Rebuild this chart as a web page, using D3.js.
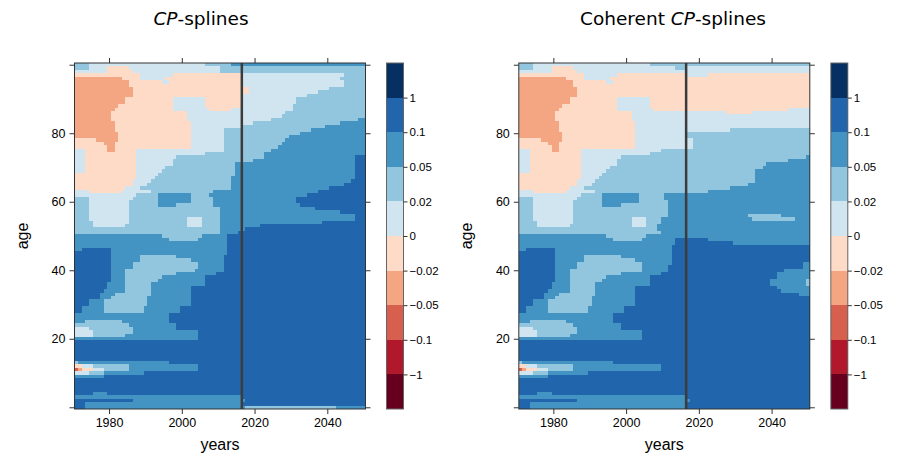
<!DOCTYPE html>
<html>
<head>
<meta charset="utf-8">
<script src="https://cdn.jsdelivr.net/npm/d3@7"></script>
<style>
  body { margin: 0; background: #fff; }
  svg text { font-family: "Liberation Sans", Arial, sans-serif; fill: #000; }
</style>
</head>
<body>
<svg id="chart" width="902" height="460"></svg>
<script>
// level index 0..9 -> RdBu classes, breaks between them
const breakLabels = ["\u22121", "\u22120.1", "\u22120.05", "\u22120.02", "0", "0.02", "0.05", "0.1", "1"];
const yearTicks = [1980, 2000, 2020, 2040];
const ageTicks = [0, 20, 40, 60, 80, 100];
const ageLabels = [20, 40, 60, 80];
const lastObserved = 2016;

// rows: [ageFrom, ageTo, "level year level year level ..."] (years = first year of next level, starting 1971)
const cpRows = [
  [100, 100, "6 1975 5 2007 6 2014 7"],
  [99, 99, "6 1975 5 1980 4 1986 5 2011 6"],
  [98, 98, "5 1980 4 1987 5 2011 6"],
  [97, 97, "4 1989 5 1998 4 2017 5 2045 6"],
  [96, 96, "3 1984 4 1989 5 1996 4 2017 5 2044 6"],
  [95, 95, "3 1986 4 1995 5 1997 4 2017 5 2045 6"],
  [94, 94, "3 1986 4 2017 5 2045 6"],
  [93, 93, "3 1987 4 2019 5 2041 6"],
  [92, 92, "3 1987 4 2019 5 2038 6"],
  [91, 91, "3 1987 4 2017 5 2035 6"],
  [89, 90, "3 1985 4 1998 5 2007 4 2017 5 2032 6"],
  [88, 88, "3 1983 4 1998 5 2007 4 2017 5 2031 6"],
  [87, 87, "3 1982 4 1998 5 2008 4 2014 5 2031 6"],
  [86, 86, "3 1981 4 2002 5 2029 6"],
  [85, 85, "3 1981 4 2002 5 2028 6"],
  [84, 84, "3 1981 4 2002 5 2025 6 2049 7"],
  [83, 83, "3 1982 4 2003 5 2020 6 2044 7"],
  [82, 82, "3 1982 4 2003 5 2017 6 2040 7"],
  [81, 81, "3 1982 4 2003 5 2012 6 2036 7"],
  [80, 80, "3 1983 4 2003 5 2012 6 2033 7"],
  [79, 79, "3 1983 4 2003 5 2012 6 2030 7"],
  [78, 78, "4 1977 3 1983 4 2003 5 2012 6 2029 7"],
  [77, 77, "4 1979 3 1982 4 2003 5 2012 6 2028 7"],
  [76, 76, "4 1980 3 1982 4 2003 5 2012 6 2027 7"],
  [75, 75, "5 1974 4 1980 3 1982 4 1988 5 2012 6 2025 7"],
  [74, 74, "5 1974 4 1988 5 2007 6 2023 7"],
  [73, 73, "5 1974 4 1988 5 1999 6 2023 7 2048 8"],
  [72, 72, "5 1974 4 1988 5 1998 6 2020 7 2048 8"],
  [71, 71, "5 1974 4 1988 5 1998 6 2015 7 2048 8"],
  [70, 70, "5 1974 4 1988 5 1996 6 2015 7 2048 8"],
  [69, 69, "5 1974 4 1988 5 1995 6 2015 7 2048 8"],
  [68, 68, "4 1988 5 1994 6 2015 7 2048 8"],
  [67, 67, "4 1988 5 1993 6 2014 7 2048 8"],
  [66, 66, "4 1987 5 1992 6 2014 7 2047 8"],
  [65, 65, "4 1987 5 1991 6 2014 7 2045 8"],
  [64, 64, "4 1985 5 1989 6 2014 7 2041 8"],
  [63, 63, "5 1975 4 1984 5 1992 6 2009 7 2038 8"],
  [62, 62, "5 1988 6 1994 7 2003 6 2008 7 2035 8"],
  [61, 61, "6 1975 5 1987 6 1994 7 2003 6 2009 7 2032 8"],
  [60, 60, "6 1975 5 1986 6 1994 7 2003 6 2009 7 2032 8"],
  [59, 59, "6 1975 5 1986 6 1994 7 1999 6 2009 7 2033 8"],
  [58, 58, "6 1975 5 1986 6 2011 7 2037 8"],
  [57, 57, "6 1975 5 1986 6 2011 7 2044 8"],
  [56, 56, "6 1975 5 1986 6 2011 7 2048 8"],
  [55, 55, "6 1975 5 1986 6 2002 5 2006 6 2011 7 2048 8"],
  [54, 54, "6 1976 5 1986 6 2002 5 2006 6 2011 7 2039 8"],
  [53, 53, "6 1976 5 1985 6 2002 5 2006 6 2011 7 2022 8"],
  [52, 52, "6 2011 7 2018 8"],
  [51, 51, "6 2011 7 2016 8"],
  [50, 50, "7 1995 6 2006 7 2013 8"],
  [49, 49, "7 1997 6 2005 7 2013 8"],
  [48, 48, "7 2013 8"],
  [47, 47, "7 2013 8"],
  [46, 46, "7 1973 8 1981 7 2013 8"],
  [45, 45, "8 1981 7 2013 8"],
  [44, 44, "8 1981 7 1989 6 1999 7 2012 8"],
  [43, 43, "8 1981 7 1989 6 2003 7 2012 8"],
  [42, 42, "8 1981 7 1987 6 2005 7 2012 8"],
  [41, 41, "8 1981 7 1987 6 2005 7 2012 8"],
  [40, 40, "8 1981 7 1985 6 2004 7 2012 8"],
  [39, 39, "8 1981 7 1985 6 1999 7 2010 8"],
  [38, 38, "8 1981 7 1985 6 1995 7 2007 8"],
  [37, 37, "8 1981 7 1985 6 1994 7 2007 8"],
  [36, 36, "8 1980 7 1985 6 1992 7 2007 8"],
  [35, 35, "8 1980 7 1985 6 1992 7 2003 8"],
  [34, 34, "8 1979 7 1985 6 1992 7 2003 8"],
  [33, 33, "8 1978 7 1982 6 1992 7 2003 8"],
  [32, 32, "8 1978 7 1981 6 1991 7 2003 8"],
  [30, 31, "8 1975 7 1979 6 1991 7 2003 8"],
  [28, 29, "8 1973 7 1979 6 1990 7 2000 8"],
  [26, 27, "7 1997 8"],
  [25, 25, "7 1974 6 1984 7 1997 8"],
  [24, 24, "6 1986 7 1999 8"],
  [23, 23, "5 1975 6 1987 7 1999 8"],
  [22, 22, "5 1976 6 1987 7 2005 8"],
  [21, 21, "5 1976 6 1985 7 2005 8"],
  [20, 20, "7 2005 8"],
  [14, 19, "8"],
  [13, 13, "6 1972 7 1997 8"],
  [12, 12, "4 1973 5 1976 6 1986 7 2005 8"],
  [11, 11, "2 1972 3 1973 4 1976 5 1979 6 1986 7 2005 8"],
  [10, 10, "5 1975 6 1979 7 1990 8"],
  [9, 9, "7 1979 8"],
  [5, 8, "8"],
  [4, 4, "8 1976 7 1980 8"],
  [3, 3, "7 2017 8"],
  [2, 2, "8 1987 7 2018 8"],
  [1, 1, "8 1974 7 2017 8"],
  [0, 0, "8 1974 7 2018 6 2043 7"]
];

const cohRows = [
  [100, 100, "6 1975 5 2007 6"],
  [99, 99, "6 1975 5 1980 4 1986 5 2014 6 2017 5"],
  [98, 98, "5 1980 4 1987 5"],
  [97, 97, "4 1989 5 1998 4 2017 5 2023 4"],
  [96, 96, "3 1984 4 1989 5 1996 4"],
  [95, 95, "3 1986 4 1995 5 1997 4"],
  [94, 94, "3 1986 4"],
  [91, 93, "3 1987 4"],
  [89, 90, "3 1985 4 1998 5 2007 4"],
  [88, 88, "3 1983 4 1998 5 2007 4"],
  [87, 87, "3 1982 4 1998 5 2008 4 2045 5"],
  [86, 86, "3 1981 4 2002 5 2028 4 2035 5"],
  [84, 85, "3 1981 4 2002 5"],
  [82, 83, "3 1982 4 2003 5"],
  [81, 81, "3 1982 4 2003 5 2029 6"],
  [79, 80, "3 1983 4 2003 5 2017 6"],
  [78, 78, "4 1977 3 1983 4 2003 5 2019 6"],
  [77, 77, "4 1979 3 1982 4 2003 5 2019 6"],
  [76, 76, "4 1980 3 1982 4 2003 5 2019 6"],
  [75, 75, "5 1974 4 1980 3 1982 4 1988 5 2010 6"],
  [74, 74, "5 1974 4 1988 5 2007 6"],
  [73, 73, "5 1974 4 1988 5 1999 6 2050 7"],
  [72, 72, "5 1974 4 1988 5 1998 6 2045 7"],
  [71, 71, "5 1974 4 1988 5 1998 6 2039 7"],
  [70, 70, "5 1974 4 1988 5 1996 6 2038 7"],
  [69, 69, "5 1974 4 1988 5 1995 6 2036 7"],
  [68, 68, "4 1988 5 1994 6 2036 7"],
  [67, 67, "4 1988 5 1993 6 2036 7"],
  [66, 66, "4 1987 5 1992 6 2036 7"],
  [65, 65, "4 1987 5 1991 6 2034 7"],
  [64, 64, "4 1985 5 1989 6 2029 7"],
  [63, 63, "5 1975 4 1984 5 1992 6 2023 7"],
  [62, 62, "5 1988 6 1994 7 2004 6 2011 7"],
  [61, 61, "6 1975 5 1987 6 1994 7 2004 6 2011 7"],
  [60, 60, "6 1975 5 1986 6 1994 7 2004 6 2012 7"],
  [59, 59, "6 1975 5 1986 6 1994 7 1999 6 2012 7"],
  [57, 58, "6 1975 5 1986 6 2012 7"],
  [56, 56, "6 1975 5 1986 6 2012 7 2034 6 2043 7"],
  [55, 55, "6 1975 5 1986 6 2002 5 2006 6 2010 7 2035 6 2047 7"],
  [54, 54, "6 1976 5 1986 6 2002 5 2006 6 2010 7"],
  [53, 53, "6 1976 5 1985 6 2002 5 2006 6 2009 7"],
  [52, 52, "6 2009 7"],
  [51, 51, "6 2010 7"],
  [50, 50, "7 1995 6 2006 7"],
  [49, 49, "7 1997 6 2005 7 2014 8 2023 7"],
  [48, 48, "7 2014 8 2030 7"],
  [47, 47, "7 2013 8"],
  [46, 46, "7 1973 8 1981 7 2013 8"],
  [45, 45, "8 1981 7 2013 8"],
  [44, 44, "8 1981 7 1989 6 1999 7 2013 8"],
  [43, 43, "8 1981 7 1989 6 2003 7 2013 8"],
  [42, 42, "8 1981 7 1987 6 2005 7 2013 8 2049 7"],
  [41, 41, "8 1981 7 1987 6 2005 7 2012 8 2049 7"],
  [40, 40, "8 1981 7 1985 6 2005 7 2012 8 2044 7"],
  [39, 39, "8 1981 7 1985 6 1999 7 2010 8 2042 7"],
  [38, 38, "8 1981 7 1985 6 1995 7 2007 8 2042 7"],
  [37, 37, "8 1981 7 1985 6 1994 7 2007 8 2040 7 2050 6"],
  [36, 36, "8 1980 7 1985 6 1992 7 2007 8 2040 7 2050 6"],
  [35, 35, "8 1980 7 1985 6 1992 7 2003 8 2042 7"],
  [34, 34, "8 1979 7 1985 6 1992 7 2003 8 2043 7"],
  [33, 33, "8 1978 7 1982 6 1992 7 2003 8 2048 7"],
  [32, 32, "8 1978 7 1981 6 1991 7 2003 8"],
  [30, 31, "8 1975 7 1979 6 1991 7 2003 8"],
  [28, 29, "8 1973 7 1979 6 1990 7 2000 8"],
  [26, 27, "7 1997 8"],
  [25, 25, "7 1974 6 1984 7 1997 8"],
  [24, 24, "6 1986 7 1999 8"],
  [23, 23, "5 1975 6 1987 7 1999 8"],
  [22, 22, "5 1976 6 1987 7 2005 8"],
  [21, 21, "5 1976 6 1985 7 2005 8"],
  [20, 20, "7 2005 8"],
  [14, 19, "8"],
  [13, 13, "6 1972 7 1997 8"],
  [12, 12, "4 1973 5 1976 6 1986 7 2010 8"],
  [11, 11, "2 1972 3 1973 4 1976 5 1979 6 1986 7 2010 8"],
  [10, 10, "5 1975 6 1979 7 1990 8"],
  [9, 9, "7 1979 8"],
  [5, 8, "8"],
  [4, 4, "8 1976 7 1980 8"],
  [3, 3, "7 2017 8"],
  [2, 2, "8 1987 7 2018 8"],
  [1, 1, "8 1974 7 2017 8"],
  [0, 0, "8 1974 7 2017 8"]
];

const colors = d3.schemeRdBu[10]; // 0 = dark red ... 9 = navy

const svg = d3.select("#chart");

function toCells(rows) {
  const cells = [];
  rows.forEach(([lo, hi, s]) => {
    const t = s.split(" ").map(Number);
    let start = 1971;
    for (let i = 0; i < t.length; i += 2) {
      const end = i + 1 < t.length ? t[i + 1] : 2051;
      cells.push({ lev: t[i], y0: start, y1: end, lo: lo, hi: hi });
      start = end;
    }
  });
  return cells;
}

function drawPanel(left, rows, titleParts, titleX) {
  const right = left + 291, top = 63, bottom = 409;
  const x = d3.scaleLinear().domain([1970.5, 2050.5]).range([left, right]);
  const y = d3.scaleLinear().domain([-0.5, 100.5]).range([bottom, top]);
  const g = svg.append("g");

  g.append("g").selectAll("rect")
    .data(toCells(rows))
    .enter()
    .append("rect")
    .attr("x", d => x(d.y0 - 0.5))
    .attr("width", d => x(d.y1 - 0.5) - x(d.y0 - 0.5))
    .attr("y", d => y(d.hi + 0.5))
    .attr("height", d => y(d.lo - 0.5) - y(d.hi + 0.5))
    .attr("fill", d => colors[d.lev])
    .attr("shape-rendering", "crispEdges");

  // forecast start line
  g.append("line")
    .attr("x1", x(lastObserved + 0.5)).attr("x2", x(lastObserved + 0.5))
    .attr("y1", top).attr("y2", bottom)
    .attr("stroke", "#3c3c3c").attr("stroke-width", 2.5);

  const tickLen = 5;
  const axBottom = d3.axisBottom(x).tickValues(yearTicks).tickFormat(d3.format("d")).tickSize(tickLen).tickPadding(4);
  const axTop = d3.axisTop(x).tickValues(yearTicks).tickFormat("").tickSize(tickLen);
  const axLeft = d3.axisLeft(y).tickValues(ageTicks)
    .tickFormat(d => ageLabels.includes(d) ? d : "").tickSize(tickLen).tickPadding(4);
  const axRight = d3.axisRight(y).tickValues(ageTicks).tickFormat("").tickSize(tickLen);

  [[axBottom, `translate(0,${bottom})`], [axTop, `translate(0,${top})`],
   [axLeft, `translate(${left},0)`], [axRight, `translate(${right},0)`]].forEach(([ax, tr]) => {
    const a = g.append("g").attr("transform", tr).call(ax);
    a.select(".domain").remove();
    a.selectAll("line").attr("stroke", "#333");
    a.selectAll("text").style("font-size", "12.5px").attr("fill", "#000");
  });

  g.append("rect")
    .attr("x", left).attr("y", top)
    .attr("width", right - left).attr("height", bottom - top)
    .attr("fill", "none").attr("stroke", "#333").attr("stroke-width", 1);

  g.append("text")
    .attr("x", (left + right) / 2).attr("y", 450)
    .attr("text-anchor", "middle").style("font-size", "16px")
    .text("years");
  g.append("text")
    .attr("transform", `translate(${left - 47},${(top + bottom) / 2}) rotate(-90)`)
    .attr("text-anchor", "middle").style("font-size", "16px")
    .text("age");

  const t = g.append("text")
    .attr("x", titleX).attr("y", 25)
    .attr("text-anchor", "middle")
    .style("font-family", "'DejaVu Sans', sans-serif")
    .style("font-size", "18.5px");
  titleParts.forEach(([txt, it]) => t.append("tspan").style("font-style", it ? "italic" : "normal").text(txt));

  // colour key
  const kx = right + 21, kw = 17;
  const ky = d3.scaleLinear().domain([0, 10]).range([bottom, top]);
  const key = svg.append("g");
  key.selectAll("rect")
    .data(colors)
    .enter()
    .append("rect")
    .attr("x", kx).attr("width", kw)
    .attr("y", (d, i) => ky(i + 1))
    .attr("height", (d, i) => ky(i) - ky(i + 1))
    .attr("fill", d => d)
    .attr("shape-rendering", "crispEdges");
  key.append("rect")
    .attr("x", kx).attr("y", top).attr("width", kw).attr("height", bottom - top)
    .attr("fill", "none").attr("stroke", "#666").attr("stroke-width", 1);
  const ka = key.append("g").attr("transform", `translate(${kx + kw},0)`)
    .call(d3.axisRight(ky).tickValues(d3.range(1, 10)).tickFormat(i => breakLabels[i - 1]).tickSize(4).tickPadding(2));
  ka.select(".domain").remove();
  ka.selectAll("line").attr("stroke", "#333");
  ka.selectAll("text").style("font-size", "11.5px").attr("fill", "#000");
}

drawPanel(74.5, cpRows, [["CP", true], ["-splines", false]], 201);
drawPanel(518.8, cohRows, [["Coherent ", false], ["CP", true], ["-splines", false]], 673);
</script>
</body>
</html>
